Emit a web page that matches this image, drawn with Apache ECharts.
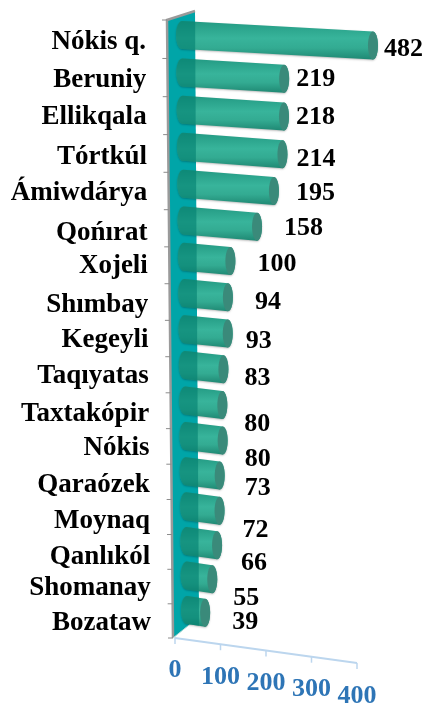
<!DOCTYPE html>
<html><head><meta charset="utf-8">
<style>html,body{margin:0;padding:0;background:#fff}#c{width:424px;height:707px}</style>
<script src="https://cdn.jsdelivr.net/npm/echarts@6/dist/echarts.min.js"></script>
</head><body><div id="c"></div>
<script>
const categories = ['Nókis q.','Beruniy','Ellikqala','Tórtkúl','Ámiwdárya','Qońırat','Xojeli','Shımbay','Kegeyli','Taqıyatas','Taxtakópir','Nókis','Qaraózek','Moynaq','Qanlıkól','Shomanay','Bozataw'];
const values = [482,219,218,214,195,158,100,94,93,83,80,80,73,72,66,55,39];
const xTicks = [0,100,200,300,400];

// Hand-placed offsets of the source's labels, relative to where they would sit by default
const labelNudge = [[6,4],[7,1],[7,1],[9,5],[17,2],[22,2],[22,3],[22,5],[13,8],[16,9],[17,19],[17,19],[20,13],[18,20],[19,18],[16,19],[22,10]];
const catNudge = [-1,1,2,6,6,10,7,10,9,9,11,9,10,10,10,5,4];

const GRID = {left:182, top:25, width:186, height:612};
const BAND = GRID.height / categories.length;
const SERIF = '"Liberation Serif","Times New Roman",serif';
const WALL = [[167,20],[195,11],[199,617],[173,638]];

// Projection of the flat chart plane into the tilted view of the source
const rowOf = py => (py - GRID.top) / BAND - 0.5;
const barY = r => 35 + 37.6*r - 0.104*r*r;
const tickY = r => 20 + 38.6*r - 0.132*r*r;
const slopeOf = r => 0.055 + 0.006*r;
const baseX = r => 182 + 5*r/16;
const wallRight = y => 195 + (y-11)*4/606;
// bars running past the axis end are foreshortened
const fore = d => d <= GRID.width ? d : GRID.width + (d-GRID.width)*0.13;

function barItem(params, api){
  const v = api.value(0), p0 = api.coord([0, api.value(1)]), p1 = api.coord([v, api.value(1)]);
  const r = rowOf(p0[1]), i = params.dataIndex;
  const x0 = baseX(r), y0 = barY(r), s = slopeOf(r);
  const len = fore(p1[0]-p0[0]);
  const x1 = x0+len, y1 = y0+s*len, ry = 14, rx = 5, rl = 6;
  const left = [];
  for(let a=-90;a>=-270;a-=15){const t=a*Math.PI/180;left.push([x0+rl*Math.cos(t),y0+ry*Math.sin(t)]);}
  const right = [];
  for(let a=90;a>=-90;a-=15){const t=a*Math.PI/180;right.push([x1+rx*Math.cos(t),y1+ry*Math.sin(t)]);}
  const xw = wallRight(y0);
  const dyw = s*(xw-x0);
  const shaded = left.concat([[xw,y0+ry+dyw],[xw,y0-ry+dyw]]);
  const grad = new echarts.graphic.LinearGradient(0,0,0,1,[
    {offset:0,color:'#239a83'},{offset:.45,color:'#38b49b'},{offset:.7,color:'#33ab92'},{offset:1,color:'#1f8873'}]);
  const n = labelNudge[i];
  return {type:'group',children:[
    {type:'polygon',shape:{points:left.concat(right)},style:{fill:grad,shadowBlur:2,shadowColor:'rgba(0,0,0,.25)',shadowOffsetY:1}},
    {type:'polygon',shape:{points:shaded},style:{fill:'#007f70',opacity:.6}},
    {type:'ellipse',shape:{cx:x1,cy:y1,rx:rx,ry:ry},style:{fill:'#3a8a7a'}},
    {type:'text',style:{text:String(v),x:x1+rx+n[0],y:y1+n[1],textAlign:'left',textVerticalAlign:'middle',
      font:'bold 26px '+SERIF,fill:'#000'}}
  ]};
}
function wallItem(){
  return {type:'group',children:[
    {type:'polygon',shape:{points:WALL},style:{fill:'#00a5a8'}},
    {type:'polyline',shape:{points:[WALL[3],WALL[0],WALL[1]]},style:{stroke:'#9a9a9a',lineWidth:2.5,fill:null}},
    {type:'line',shape:{x1:WALL[3][0],y1:WALL[3][1],x2:WALL[2][0],y2:WALL[2][1]},style:{stroke:'#b5dcd8',lineWidth:1}}
  ]};
}
function catItem(params, api){
  const i = params.dataIndex, p = api.coord([0, api.value(0)]), r = rowOf(p[1]);
  const ty = tickY(r), tx = 167 + (ty-20)*6/618;
  const kids = [{type:'text',style:{text:categories[i],x:146+5*r/16,y:p[1]+catNudge[i],textAlign:'right',textVerticalAlign:'middle',
    font:'bold 27px '+SERIF,fill:'#000'}},
    {type:'line',shape:{x1:tx-5,y1:ty,x2:tx,y2:ty},style:{stroke:'#8c8c8c',lineWidth:1}}];
  if(i===categories.length-1){
    kids.push({type:'line',shape:{x1:173-5,y1:638,x2:173,y2:638},style:{stroke:'#8c8c8c',lineWidth:1}});
  }
  return {type:'group',children:kids};
}
function tickItem(params, api){
  const v = api.value(0), d = api.coord([v,0])[0]-GRID.left;
  const x = 175 + d*182/186, y = 638 + (x-175)*0.137;
  const kids = [{type:'line',shape:{x1:x,y1:y,x2:x,y2:y+6},style:{stroke:'#bcd6ee',lineWidth:1.5}},
    {type:'text',style:{text:String(v),x:x,y:y+ (v===0?32:33),textAlign:'center',textVerticalAlign:'middle',
      font:'bold 26px '+SERIF,fill:'#2e75b6'}}];
  if(v===0) kids.push({type:'line',shape:{x1:175,y1:638,x2:357,y2:638+182*0.137},style:{stroke:'#bcd6ee',lineWidth:2}});
  return {type:'group',children:kids};
}
const chart = echarts.init(document.getElementById('c'),null,{renderer:'canvas'});
chart.setOption({
  animation:false,backgroundColor:'#fff',
  grid:GRID,
  xAxis:{type:'value',min:0,max:400,interval:100,show:false},
  yAxis:{type:'category',data:categories,inverse:true,show:false},
  series:[
    {type:'custom',silent:true,clip:false,z:1,data:[[0,0]],renderItem:wallItem},
    {type:'custom',clip:false,z:2,data:categories.map((c,i)=>[i]),encode:{y:0},renderItem:catItem},
    {type:'custom',clip:false,z:3,data:values.map((v,i)=>[v,i]),encode:{x:0,y:1},renderItem:barItem},
    {type:'custom',clip:false,z:5,data:xTicks.map(v=>[v]),encode:{x:0},renderItem:tickItem}
  ]
});
</script></body></html>
